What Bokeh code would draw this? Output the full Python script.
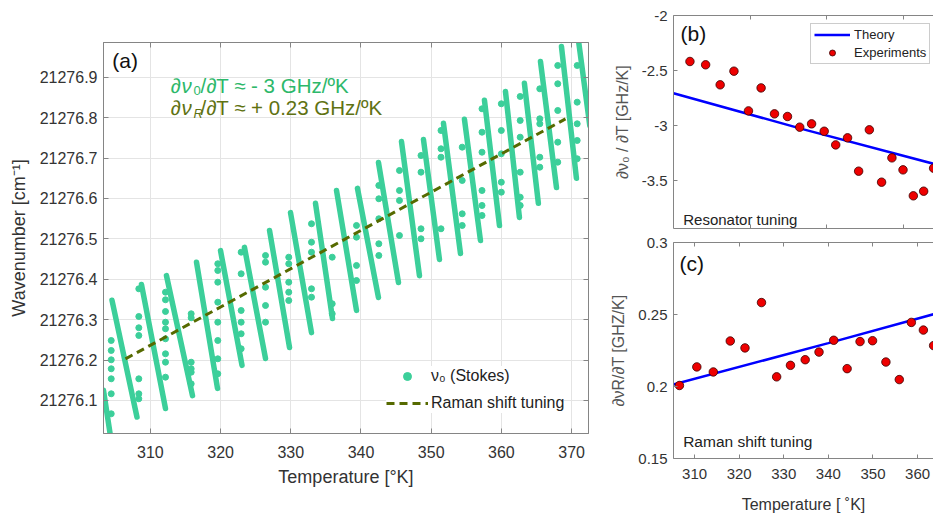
from bokeh.plotting import figure
from bokeh.models import (Range1d, FixedTicker, LinearAxis, Label, CustomJSTickFormatter)
from bokeh.layouts import row, column
from bokeh.embed import file_html
from bokeh.resources import INLINE

FONT = "Liberation Sans"
MINT = "#3ccf9a"
TXT_GREEN = "#2db86a"
OLIVE = "#5f7212"
DASH = "#566a00"
AX = "#858585"
TICKTXT = "#333333"

# ---------------- panel (a) data ----------------
# dense tuning "teeth": start (top) and end (bottom) of each sweep
tooth_x_top = [303.32, 304.53, 308.73, 312.29, 316.57, 319.99, 323.40, 326.97, 329.96, 333.52, 336.51, 339.50,
               342.49, 345.77, 348.90, 351.75, 354.74, 357.59, 360.58, 363.28, 365.57, 368.56, 371.00]
tooth_y_top = [21276.125, 21276.348, 21276.387, 21276.409, 21276.442, 21276.471, 21276.479, 21276.521,
               21276.565, 21276.588, 21276.620, 21276.625, 21276.689, 21276.741, 21276.746, 21276.786,
               21276.796, 21276.843, 21276.865, 21276.885, 21276.939, 21276.976, 21276.989]
tooth_x_bot = [304.26, 308.09, 312.15, 316.00, 319.56, 323.05, 326.40, 329.82, 332.95, 335.94, 339.36, 342.49,
               345.34, 348.33, 351.18, 354.17, 357.02, 359.73, 362.57, 365.27, 367.85, 370.69, 372.60]
tooth_y_bot = [21276.018, 21276.059, 21276.080, 21276.112, 21276.130, 21276.187, 21276.204, 21276.231,
               21276.268, 21276.303, 21276.323, 21276.355, 21276.392, 21276.409, 21276.449, 21276.464,
               21276.496, 21276.533, 21276.553, 21276.588, 21276.627, 21276.650, 21276.780]

# sparse points between the sweeps (one column per gap)
gap_x = [304.42, 308.35, 312.15, 315.81, 319.60, 322.93, 326.40, 329.71, 332.95, 335.90, 339.36,
         342.54, 345.48, 348.55, 351.40, 354.42, 357.24, 359.99, 362.68, 365.47, 368.03, 370.80]
gap_y = [
    [21276.2485, 21276.2238, 21276.2007, 21276.1785, 21276.1537, 21276.1166, 21276.0671],
    [21276.3765, 21276.3079, 21276.2800, 21276.2609, 21276.1537, 21276.1166, 21276.1042],
    [21276.3681, 21276.3493, 21276.3203, 21276.2938, 21276.2775, 21276.2527, 21276.2156, 21276.1948, 21276.1577],
    [21276.3146, 21276.3047, 21276.1948, 21276.1785, 21276.1700, 21276.1413],
    [21276.4384, 21276.4218, 21276.3928, 21276.3433, 21276.2938, 21276.2485, 21276.2032, 21276.1661],
    [21276.4671, 21276.4136, 21276.3228, 21276.2938, 21276.2651, 21276.2280],
    [21276.4589, 21276.4423, 21276.3804, 21276.3351, 21276.2938],
    [21276.4547, 21276.4384, 21276.3928, 21276.3681, 21276.3475],
    [21276.5374, 21276.4918, 21276.4671, 21276.3765, 21276.3557],
    [21276.4547, 21276.3394, 21276.3146],
    [21276.5332, 21276.5042, 21276.4342, 21276.3970],
    [21276.6322, 21276.5993, 21276.5498, 21276.4879, 21276.4589],
    [21276.6693, 21276.6198, 21276.5950, 21276.5084],
    [21276.7064, 21276.6651, 21276.5250, 21276.5002],
    [21276.7683, 21276.7230, 21276.7022, 21276.5250],
    [21276.7270, 21276.6446, 21276.5621, 21276.5332],
    [21276.8220, 21276.7641, 21276.7146, 21276.6198, 21276.5827, 21276.5579],
    [21276.8344, 21276.7683, 21276.7106, 21276.6403, 21276.6156],
    [21276.8525, 21276.7931, 21276.7517, 21276.6651, 21276.6032, 21276.5827],
    [21276.8715, 21276.7973, 21276.7849, 21276.7022, 21276.6775],
    [21276.9292, 21276.8839, 21276.8178, 21276.7394, 21276.6899],
    [21276.9292, 21276.8384, 21276.7849, 21276.7436, 21276.6983],
]

raman_x = [306.45, 369.13]
raman_y = [21276.203, 21276.797]

a_xticks = [310, 320, 330, 340, 350, 360, 370]
a_yticks = [21276.1, 21276.2, 21276.3, 21276.4, 21276.5, 21276.6, 21276.7, 21276.8, 21276.9]

# ---------------- panel (b) data ----------------
b_exp_x = [304.3, 308.4, 312.2, 315.8, 319.6, 322.9, 326.4, 329.8, 333.0, 336.1, 339.4, 342.4, 345.5,
           348.4, 351.2, 354.4, 357.1, 360.0, 362.7, 365.4, 368.0]
b_exp_y = [-2.418, -2.448, -2.630, -2.506, -2.867, -2.658, -2.894, -2.918, -3.015, -2.985, -3.052, -3.176,
           -3.112, -3.415, -3.039, -3.515, -3.294, -3.403, -3.639, -3.597, -3.388]
b_theory_x = [300.0, 334.0, 368.0]
b_theory_y = [-2.706, -3.035, -3.348]
b_yticks = [-3.5, -3, -2.5, -2]
b_xticks = [320, 340, 360]

# ---------------- panel (c) data ----------------
c_exp_x = [306.6, 310.5, 314.2, 318.0, 321.3, 325.0, 328.4, 331.5, 334.8, 337.9, 341.2, 344.2, 347.1,
           349.9, 352.9, 355.9, 358.6, 361.3, 363.6]
c_exp_y = [0.2007, 0.2136, 0.2101, 0.2316, 0.2268, 0.2583, 0.2067, 0.2147, 0.2186, 0.2239, 0.2321, 0.2124,
           0.2312, 0.2318, 0.2170, 0.2048, 0.2445, 0.2392, 0.2284]
c_theory_x = [305.2, 340.0, 363.6]
c_theory_y = [0.2014, 0.2301, 0.2502]
c_yticks = [0.15, 0.2, 0.25, 0.3]
c_xticks = [310, 320, 330, 340, 350, 360]


def style_axis(ax, ticks, labels=True, size="16px", standoff=6, tick_in=5):
    ax.ticker = FixedTicker(ticks=ticks)
    ax.major_tick_in = tick_in
    ax.major_tick_out = 0
    ax.minor_tick_line_color = None
    ax.axis_line_color = AX
    ax.major_tick_line_color = AX
    if labels:
        ax.formatter = CustomJSTickFormatter(code="return tick.toString()")
        ax.major_label_text_font = FONT
        ax.major_label_text_font_size = size
        ax.major_label_text_color = TICKTXT
        ax.major_label_standoff = standoff
    else:
        ax.formatter = CustomJSTickFormatter(code="return ''")
        ax.major_label_text_font_size = "0px"
        ax.major_label_standoff = 0


def axis_title(ax, text, size, standoff, color=TICKTXT):
    ax.axis_label = text
    ax.axis_label_text_font = FONT
    ax.axis_label_text_font_size = size
    ax.axis_label_text_font_style = "normal"
    ax.axis_label_text_color = color
    ax.axis_label_standoff = standoff


def piece(fig, x, y, text, dx=0, dy=0, size="20.5px", color="#222222", style="normal"):
    fig.add_layout(Label(x=x, y=y, text=text, x_offset=dx, y_offset=dy, text_font=FONT,
                         text_font_size=size, text_color=color, text_font_style=style,
                         text_align="left", text_baseline="middle"))


# =============== figure (a) ===============
pa = figure(width=596, height=515, x_range=Range1d(303.32, 372.41), y_range=Range1d(21276.0183, 21276.9861),
            output_backend="svg", toolbar_location=None,
            min_border_left=103, min_border_right=8, min_border_top=42, min_border_bottom=82)
pa.outline_line_color = AX
pa.background_fill_color = "white"
pa.border_fill_color = "white"
pa.xgrid.grid_line_color = "#e4e4e4"
pa.ygrid.grid_line_color = "#e4e4e4"

style_axis(pa.xaxis[0], a_xticks, size="16px", standoff=12)
style_axis(pa.yaxis[0], a_yticks, size="16px", standoff=6)
axis_title(pa.xaxis[0], "Temperature [°K]", "18px", 6)
axis_title(pa.yaxis[0], "Wavenumber [cm⁻¹]", "18px", 8)
ax_top = LinearAxis()
style_axis(ax_top, a_xticks, labels=False)
pa.add_layout(ax_top, "above")
ax_right = LinearAxis()
style_axis(ax_right, a_yticks, labels=False)
pa.add_layout(ax_right, "right")

pa.segment(x0=tooth_x_top, y0=tooth_y_top, x1=tooth_x_bot, y1=tooth_y_bot,
           line_color=MINT, line_width=5.5, line_cap="round")
sx, sy = [], []
for gx, ys in zip(gap_x, gap_y):
    for yv in ys:
        sx.append(gx)
        sy.append(yv)
pa.scatter(sx, sy, size=6, fill_color=MINT, line_color=MINT, legend_label="ν₀ (Stokes)")
pa.line(raman_x, raman_y, line_color=DASH, line_width=3, line_dash="8 5", legend_label="Raman shift tuning")

leg = pa.legend[0]
leg.location = (283, 20)
leg.background_fill_color = "white"
leg.background_fill_alpha = 1
leg.border_line_color = None
leg.label_text_font = FONT
leg.label_text_font_size = "16px"
leg.label_text_color = "#222222"
leg.glyph_width = 42
leg.glyph_height = 20
leg.label_height = 20
leg.spacing = 7
leg.padding = 8
leg.label_standoff = 3
leg.margin = 0

# annotations in (a)
piece(pa, 304.56, 21276.9416, "(a)", size="21px", color="#111111")
ax0 = 312.86
y1 = 21276.8797
y2 = 21276.8245
piece(pa, ax0, y1, "∂", color=TXT_GREEN)
piece(pa, ax0, y1, "ν", dx=11, color=TXT_GREEN, style="italic")
piece(pa, ax0, y1, "0", dx=23, dy=-5, size="13px", color=TXT_GREEN)
piece(pa, ax0, y1, "/∂T ≈ - 3 GHz/ºK", dx=30, color=TXT_GREEN)
piece(pa, ax0, y2, "∂", color=OLIVE)
piece(pa, ax0, y2, "ν", dx=11, color=OLIVE, style="italic")
piece(pa, ax0, y2, "R", dx=23, dy=-6, size="13px", color=OLIVE, style="italic")
piece(pa, ax0, y2, " /∂T ≈ + 0.23 GHz/ºK", dx=30, color=OLIVE)

# =============== figure (b) ===============
pb = figure(width=337, height=235, x_range=Range1d(300, 367.97), y_range=Range1d(-3.936, -2),
            output_backend="svg", toolbar_location=None,
            min_border_left=77, min_border_right=0, min_border_top=15, min_border_bottom=7)
pb.outline_line_color = None
pb.grid.grid_line_color = None
style_axis(pb.yaxis[0], b_yticks, size="15px", standoff=6, tick_in=4)
axis_title(pb.yaxis[0], "∂ν₀ / ∂T [GHz/K]", "16px", 8, color="#555555")
style_axis(pb.xaxis[0], b_xticks, labels=False, tick_in=4)
b_top = LinearAxis()
style_axis(b_top, b_xticks, labels=False, tick_in=4)
pb.add_layout(b_top, "above")

pb.line(b_theory_x, b_theory_y, line_color="#0000ff", line_width=2.5, legend_label="Theory")
pb.scatter(b_exp_x, b_exp_y, size=8.5, fill_color="#ee0000", line_color="#3a0000", line_width=0.8,
           legend_label="Experiments")
lb = pb.legend[0]
lb.location = (137, 164)
lb.background_fill_color = "white"
lb.border_line_color = "#9a9a9a"
lb.label_text_font = FONT
lb.label_text_font_size = "13px"
lb.label_text_color = "#222222"
lb.glyph_width = 36
lb.glyph_height = 15
lb.label_height = 15
lb.spacing = 3
lb.padding = 3
lb.label_standoff = 4
lb.margin = 0

piece(pb, 301.83, -2.1636, "(b)", size="21px", color="#111111")
piece(pb, 302.54, -3.8545, "Resonator tuning", size="15px", color="#222222")

# =============== figure (c) ===============
pc = figure(width=337, height=280, x_range=Range1d(305.27, 363.57), y_range=Range1d(0.15, 0.3),
            output_backend="svg", toolbar_location=None,
            min_border_left=77, min_border_right=0, min_border_top=7, min_border_bottom=54)
pc.outline_line_color = None
pc.grid.grid_line_color = None
style_axis(pc.yaxis[0], c_yticks, size="15px", standoff=6, tick_in=4)
axis_title(pc.yaxis[0], "∂νR/∂T [GHZ/K]", "16px", 8, color="#555555")
style_axis(pc.xaxis[0], c_xticks, size="15px", standoff=10, tick_in=4)
axis_title(pc.xaxis[0], "Temperature [ ˚K]", "16px", 14)
c_top = LinearAxis()
style_axis(c_top, c_xticks, labels=False, tick_in=4)
pc.add_layout(c_top, "above")

pc.line(c_theory_x, c_theory_y, line_color="#0000ff", line_width=2.5)
pc.scatter(c_exp_x, c_exp_y, size=8.5, fill_color="#ee0000", line_color="#3a0000", line_width=0.8)

piece(pc, 306.62, 0.2856, "(c)", size="21px", color="#111111")
piece(pc, 307.44, 0.1621, "Raman shift tuning", size="15.5px", color="#222222")

layout = row(pa, column(pb, pc))
open("out.html", "w").write(file_html(layout, INLINE))
